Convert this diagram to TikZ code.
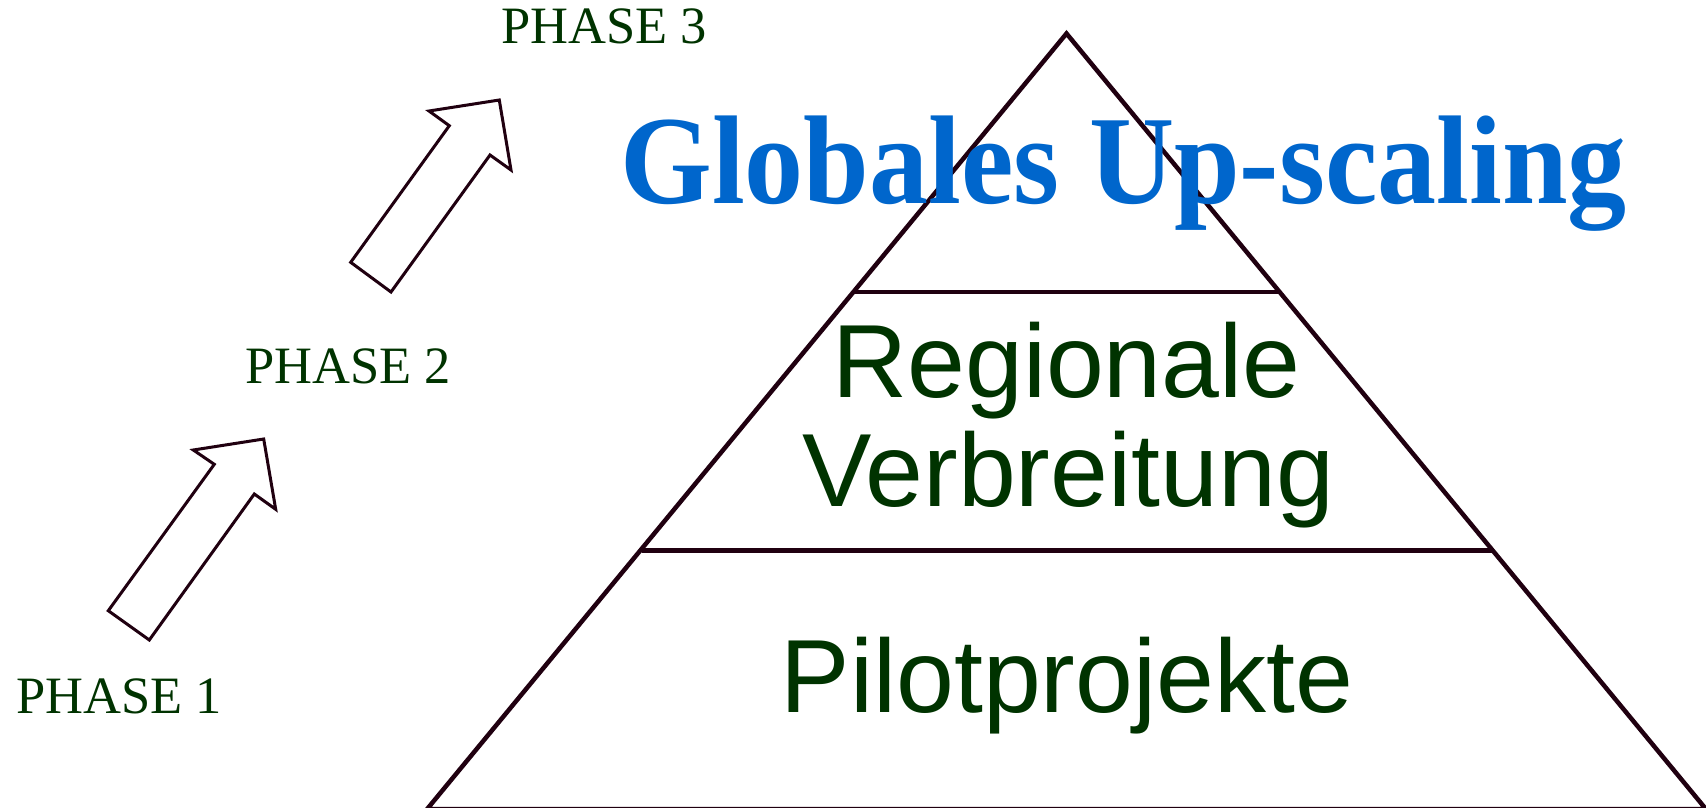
\documentclass[tikz,border=0pt]{standalone}
\usepackage{fontspec}
\setmainfont{Liberation Serif}
\newfontfamily\arialf{Liberation Sans}
\definecolor{phasegreen}{RGB}{0,51,0}
\definecolor{titleblue}{RGB}{0,102,204}
\definecolor{linedark}{RGB}{32,0,16}
\begin{document}
\begin{tikzpicture}[x=1pt,y=-1pt,
  edge/.style={draw=linedark,line width=4.5pt,line join=miter},
  arrowshape/.style={draw=linedark,line width=3pt,fill=white,line join=miter},
  phaselabel/.style={text=phasegreen,font=\fontsize{52.5}{54}\selectfont,inner sep=0pt,anchor=base west},
  tiertext/.style={text=phasegreen,font=\arialf\fontsize{104}{104}\selectfont,inner sep=0pt,anchor=base},
  titletext/.style={text=titleblue,font=\bfseries\fontsize{118}{120}\selectfont,inner sep=0pt,anchor=base west}]
\useasboundingbox (0,0) rectangle (1706,807);
% pyramid
\coordinate (apex) at (1066.5,33.5);
\coordinate (bl) at (427,809.2);
\coordinate (br) at (1706,809.2);
\coordinate (l1a) at (854,292);
\coordinate (l1b) at (1280,292);
\coordinate (l2a) at (641.5,550.5);
\coordinate (l2b) at (1491.5,550.5);
\draw[edge] (apex) -- (bl) -- (br) -- cycle;
\draw[edge] (l1a) -- (l1b);
\draw[edge] (l2a) -- (l2b);
% arrows
\draw[arrowshape] (108.3,610.7) -- (149.3,640) -- (254.3,494) -- (275.7,509.3) -- (263.7,439) -- (193.3,450) -- (214.3,464.3) -- cycle;
\draw[arrowshape] (350.7,262.3) -- (391,292) -- (490,155) -- (511,170) -- (499.3,100) -- (429,111) -- (449.3,125.7) -- cycle;
% labels
\node[phaselabel] (p1) at (16,713.3) {PHASE 1};
\node[phaselabel] (p2) at (245,383.3) {PHASE 2};
\node[phaselabel] (p3) at (501,43.5) {PHASE 3};
\node[titletext] (title) at (620,203.3) {\scalebox{1}[1.07]{Globales Up-scaling}};
\node[tiertext] (reg) at (1066.5,397.5) {Regionale};
\node[tiertext] (verb) at (1068,506.5) {Verbreitung};
\node[tiertext] (pilot) at (1067,712) {Pilotprojekte};
\end{tikzpicture}
\end{document}
